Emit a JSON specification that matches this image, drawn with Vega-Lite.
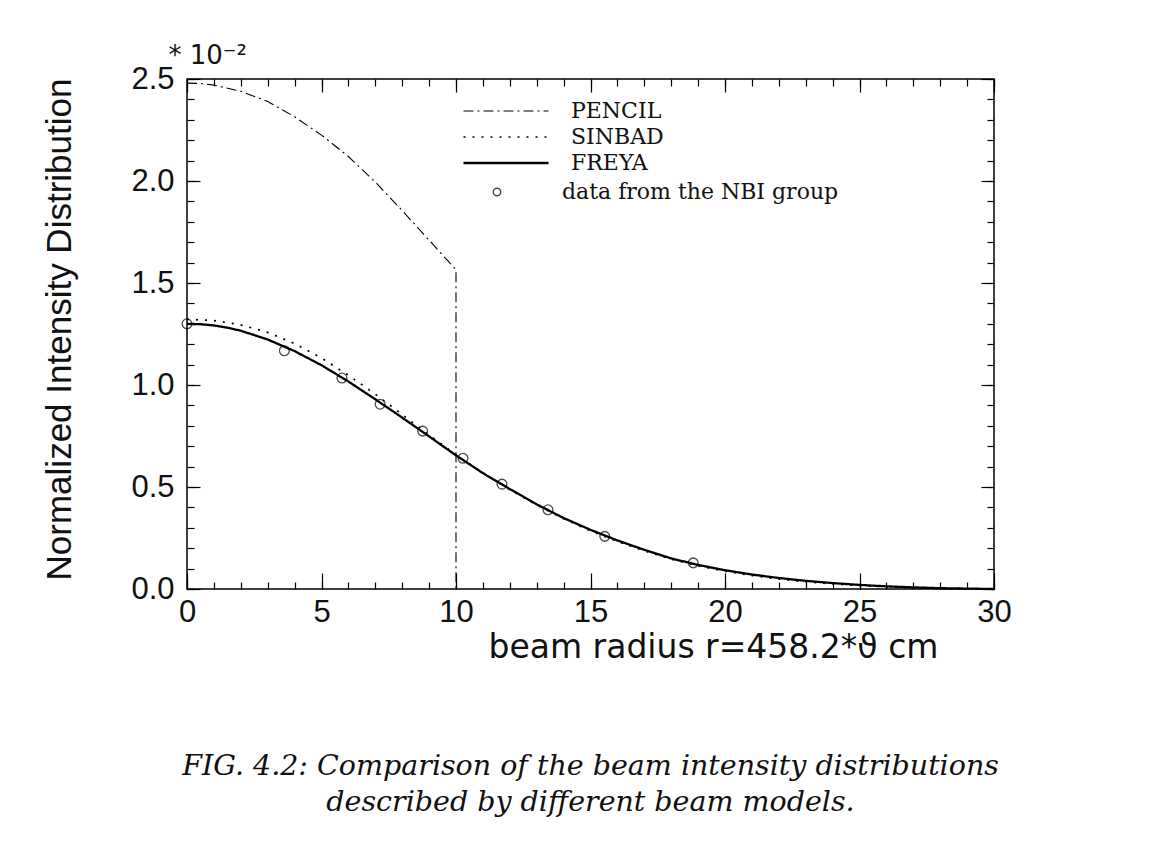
{
  "$schema": "https://vega.github.io/schema/vega-lite/v6.json",
  "width": 807,
  "height": 510,
  "autosize": "none",
  "padding": {"left": 187, "top": 79, "right": 160, "bottom": 256},
  "background": "white",
  "title": {
    "text": ["FIG. 4.2: Comparison of the beam intensity distributions", "described by different beam models."],
    "orient": "bottom",
    "anchor": "middle",
    "frame": "group",
    "offset": 111,
    "baseline": "alphabetic",
    "font": "DejaVu Serif",
    "fontStyle": "italic",
    "fontWeight": "normal",
    "fontSize": 28.5,
    "lineHeight": 36,
    "color": "#111"
  },
  "datasets": {
    "curves": [
      {"model": "PENCIL", "r": 0, "value": 2.48},
      {"model": "PENCIL", "r": 0.5, "value": 2.478},
      {"model": "PENCIL", "r": 1, "value": 2.47},
      {"model": "PENCIL", "r": 2, "value": 2.44},
      {"model": "PENCIL", "r": 3, "value": 2.39},
      {"model": "PENCIL", "r": 4, "value": 2.315},
      {"model": "PENCIL", "r": 5, "value": 2.225},
      {"model": "PENCIL", "r": 6, "value": 2.12},
      {"model": "PENCIL", "r": 7, "value": 1.995},
      {"model": "PENCIL", "r": 8, "value": 1.855},
      {"model": "PENCIL", "r": 9, "value": 1.71},
      {"model": "PENCIL", "r": 10, "value": 1.565},
      {"model": "PENCIL", "r": 10, "value": 0.0},
      {"model": "SINBAD", "r": 0, "value": 1.322},
      {"model": "SINBAD", "r": 1, "value": 1.316},
      {"model": "SINBAD", "r": 2, "value": 1.295},
      {"model": "SINBAD", "r": 3, "value": 1.258},
      {"model": "SINBAD", "r": 4, "value": 1.203},
      {"model": "SINBAD", "r": 5, "value": 1.132},
      {"model": "SINBAD", "r": 6, "value": 1.048},
      {"model": "SINBAD", "r": 7, "value": 0.955},
      {"model": "SINBAD", "r": 8, "value": 0.855},
      {"model": "SINBAD", "r": 9, "value": 0.755},
      {"model": "SINBAD", "r": 10, "value": 0.658},
      {"model": "SINBAD", "r": 11, "value": 0.568},
      {"model": "SINBAD", "r": 12, "value": 0.487},
      {"model": "SINBAD", "r": 13, "value": 0.412},
      {"model": "SINBAD", "r": 14, "value": 0.344},
      {"model": "SINBAD", "r": 15, "value": 0.285},
      {"model": "SINBAD", "r": 16, "value": 0.233},
      {"model": "SINBAD", "r": 17, "value": 0.187},
      {"model": "SINBAD", "r": 18, "value": 0.146},
      {"model": "SINBAD", "r": 19, "value": 0.113},
      {"model": "SINBAD", "r": 20, "value": 0.087},
      {"model": "SINBAD", "r": 21, "value": 0.066},
      {"model": "SINBAD", "r": 22, "value": 0.049},
      {"model": "SINBAD", "r": 23, "value": 0.035},
      {"model": "SINBAD", "r": 24, "value": 0.025},
      {"model": "SINBAD", "r": 25, "value": 0.017},
      {"model": "SINBAD", "r": 26, "value": 0.011},
      {"model": "SINBAD", "r": 27, "value": 0.006},
      {"model": "SINBAD", "r": 28, "value": 0.003},
      {"model": "SINBAD", "r": 29, "value": 0.001},
      {"model": "SINBAD", "r": 30, "value": 0.0},
      {"model": "FREYA", "r": 0, "value": 1.3},
      {"model": "FREYA", "r": 0.5, "value": 1.298},
      {"model": "FREYA", "r": 1, "value": 1.292},
      {"model": "FREYA", "r": 1.5, "value": 1.281},
      {"model": "FREYA", "r": 2, "value": 1.266},
      {"model": "FREYA", "r": 3, "value": 1.223},
      {"model": "FREYA", "r": 4, "value": 1.166},
      {"model": "FREYA", "r": 5, "value": 1.097},
      {"model": "FREYA", "r": 6, "value": 1.017},
      {"model": "FREYA", "r": 7, "value": 0.93},
      {"model": "FREYA", "r": 8, "value": 0.84},
      {"model": "FREYA", "r": 9, "value": 0.748},
      {"model": "FREYA", "r": 10, "value": 0.655},
      {"model": "FREYA", "r": 11, "value": 0.568},
      {"model": "FREYA", "r": 12, "value": 0.49},
      {"model": "FREYA", "r": 13, "value": 0.415},
      {"model": "FREYA", "r": 14, "value": 0.348},
      {"model": "FREYA", "r": 15, "value": 0.29},
      {"model": "FREYA", "r": 16, "value": 0.238},
      {"model": "FREYA", "r": 17, "value": 0.192},
      {"model": "FREYA", "r": 18, "value": 0.15},
      {"model": "FREYA", "r": 19, "value": 0.118},
      {"model": "FREYA", "r": 20, "value": 0.092},
      {"model": "FREYA", "r": 21, "value": 0.071},
      {"model": "FREYA", "r": 22, "value": 0.054},
      {"model": "FREYA", "r": 23, "value": 0.04},
      {"model": "FREYA", "r": 24, "value": 0.029},
      {"model": "FREYA", "r": 25, "value": 0.02},
      {"model": "FREYA", "r": 26, "value": 0.013},
      {"model": "FREYA", "r": 27, "value": 0.008},
      {"model": "FREYA", "r": 28, "value": 0.004},
      {"model": "FREYA", "r": 29, "value": 0.002},
      {"model": "FREYA", "r": 30, "value": 0.0}
    ],
    "nbi": [
      {"source": "data from the NBI group", "r": 0.0, "value": 1.3},
      {"source": "data from the NBI group", "r": 3.62, "value": 1.168},
      {"source": "data from the NBI group", "r": 5.76, "value": 1.034},
      {"source": "data from the NBI group", "r": 7.18, "value": 0.906},
      {"source": "data from the NBI group", "r": 8.76, "value": 0.774},
      {"source": "data from the NBI group", "r": 10.26, "value": 0.641},
      {"source": "data from the NBI group", "r": 11.71, "value": 0.514},
      {"source": "data from the NBI group", "r": 13.42, "value": 0.388},
      {"source": "data from the NBI group", "r": 15.53, "value": 0.258},
      {"source": "data from the NBI group", "r": 18.82, "value": 0.128}
    ]
  },
  "config": {
    "view": {"stroke": "black", "strokeWidth": 1.5},
    "axis": {
      "grid": false,
      "domain": false,
      "labelFont": "Liberation Sans",
      "labelFontSize": 31,
      "labelColor": "#111",
      "tickColor": "black",
      "tickWidth": 1.2,
      "labelFlush": false,
      "labelOverlap": false,
      "titleColor": "#111",
      "titleFontWeight": "normal"
    }
  },
  "resolve": {"axis": {"x": "independent", "y": "independent"}},
  "layer": [
    {
      "data": {"name": "curves"},
      "mark": {"type": "line", "interpolate": "linear", "color": "black"},
      "encoding": {
        "x": {
          "field": "r", "type": "quantitative",
          "scale": {"domain": [0, 30], "nice": false, "zero": false},
          "axis": {
            "orient": "bottom",
            "values": [0, 5, 10, 15, 20, 25, 30],
            "tickSize": -16,
            "labelPadding": 24,
            "labelBaseline": "top",
            "title": "beam radius r=458.2*ϑ  cm",
            "titleFont": "DejaVu Sans",
            "titleFontSize": 33,
            "titleX": 526,
            "titleY": 68,
            "titleAlign": "center",
            "titleBaseline": "alphabetic"
          }
        },
        "y": {
          "field": "value", "type": "quantitative",
          "scale": {"domain": [0, 2.5], "nice": false, "zero": false},
          "axis": {
            "orient": "left",
            "values": [0, 0.5, 1, 1.5, 2, 2.5],
            "format": ".1f",
            "tickSize": -13,
            "labelPadding": 26,
            "labelBaseline": "middle",
            "title": "Normalized Intensity Distribution",
            "titleFont": "Liberation Sans",
            "titleFontSize": 35,
            "titleAngle": -90,
            "titleX": -117,
            "titleY": 250,
            "titleAlign": "center",
            "titleBaseline": "alphabetic"
          }
        },
        "strokeWidth": {
          "field": "model", "type": "nominal",
          "scale": {"domain": ["PENCIL", "SINBAD", "FREYA"], "range": [1.1, 2.3, 1.0]},
          "legend": null
        },
        "strokeDash": {
          "field": "model", "type": "nominal",
          "scale": {"domain": ["PENCIL", "SINBAD", "FREYA"], "range": [[10, 4, 2, 4], [2, 7], [1, 0]]},
          "legend": {
            "title": null,
            "orient": "none",
            "legendX": 275,
            "legendY": 19,
            "symbolType": "stroke",
            "symbolSize": 7225,
            "symbolStrokeWidth": 1.3,
            "symbolStrokeColor": "black",
            "symbolOffset": 0,
            "labelOffset": 21,
            "labelFont": "DejaVu Serif",
            "labelFontSize": 22,
            "labelColor": "#111",
            "labelLimit": 600,
            "clipHeight": 26,
            "rowPadding": 0,
            "padding": 0
          }
        }
      }
    },
    {
      "data": {"name": "nbi"},
      "mark": {"type": "point", "filled": false, "color": "black", "strokeWidth": 1.3, "size": 95},
      "encoding": {
        "x": {
          "field": "r", "type": "quantitative",
          "axis": {
            "orient": "bottom",
            "values": [0,1,2,3,4,5,6,7,8,9,10,11,12,13,14,15,16,17,18,19,20,21,22,23,24,25,26,27,28,29,30],
            "tickSize": -7,
            "labels": false,
            "title": null
          }
        },
        "y": {
          "field": "value", "type": "quantitative",
          "axis": {
            "orient": "left",
            "values": [0,0.1,0.2,0.3,0.4,0.5,0.6,0.7,0.8,0.9,1,1.1,1.2,1.3,1.4,1.5,1.6,1.7,1.8,1.9,2,2.1,2.2,2.3,2.4,2.5],
            "tickSize": -7,
            "labels": false,
            "title": null
          }
        },
        "shape": {
          "field": "source", "type": "nominal",
          "scale": {"range": ["circle"]},
          "legend": {
            "title": null,
            "orient": "none",
            "legendX": 299,
            "legendY": 100,
            "symbolSize": 55,
            "symbolStrokeWidth": 1.5,
            "symbolStrokeColor": "black",
            "symbolOffset": 0,
            "labelOffset": 54,
            "labelFont": "DejaVu Serif",
            "labelFontSize": 22,
            "labelColor": "#111",
            "labelLimit": 600,
            "clipHeight": 26,
            "padding": 0
          }
        }
      }
    },
    {
      "data": {"name": "nbi"},
      "mark": {"type": "point", "opacity": 0},
      "encoding": {
        "x": {
          "field": "r", "type": "quantitative",
          "axis": {
            "orient": "top",
            "values": [0, 5, 10, 15, 20, 25, 30],
            "tickSize": -13,
            "labels": false,
            "title": "* 10⁻²",
            "titleFont": "DejaVu Sans",
            "titleFontSize": 26,
            "titleAngle": 0,
            "titleX": -19,
            "titleY": -16,
            "titleAlign": "left",
            "titleBaseline": "alphabetic"
          }
        },
        "y": {
          "field": "value", "type": "quantitative",
          "axis": {
            "orient": "right",
            "values": [0, 0.5, 1, 1.5, 2, 2.5],
            "tickSize": -13,
            "labels": false,
            "title": null
          }
        }
      }
    },
    {
      "data": {"name": "nbi"},
      "mark": {"type": "point", "opacity": 0},
      "encoding": {
        "x": {
          "field": "r", "type": "quantitative",
          "axis": {
            "orient": "top",
            "values": [0,1,2,3,4,5,6,7,8,9,10,11,12,13,14,15,16,17,18,19,20,21,22,23,24,25,26,27,28,29,30],
            "tickSize": -7,
            "labels": false,
            "title": null
          }
        },
        "y": {
          "field": "value", "type": "quantitative",
          "axis": {
            "orient": "right",
            "values": [0,0.1,0.2,0.3,0.4,0.5,0.6,0.7,0.8,0.9,1,1.1,1.2,1.3,1.4,1.5,1.6,1.7,1.8,1.9,2,2.1,2.2,2.3,2.4,2.5],
            "tickSize": -7,
            "labels": false,
            "title": null
          }
        }
      }
    }
  ]
}
